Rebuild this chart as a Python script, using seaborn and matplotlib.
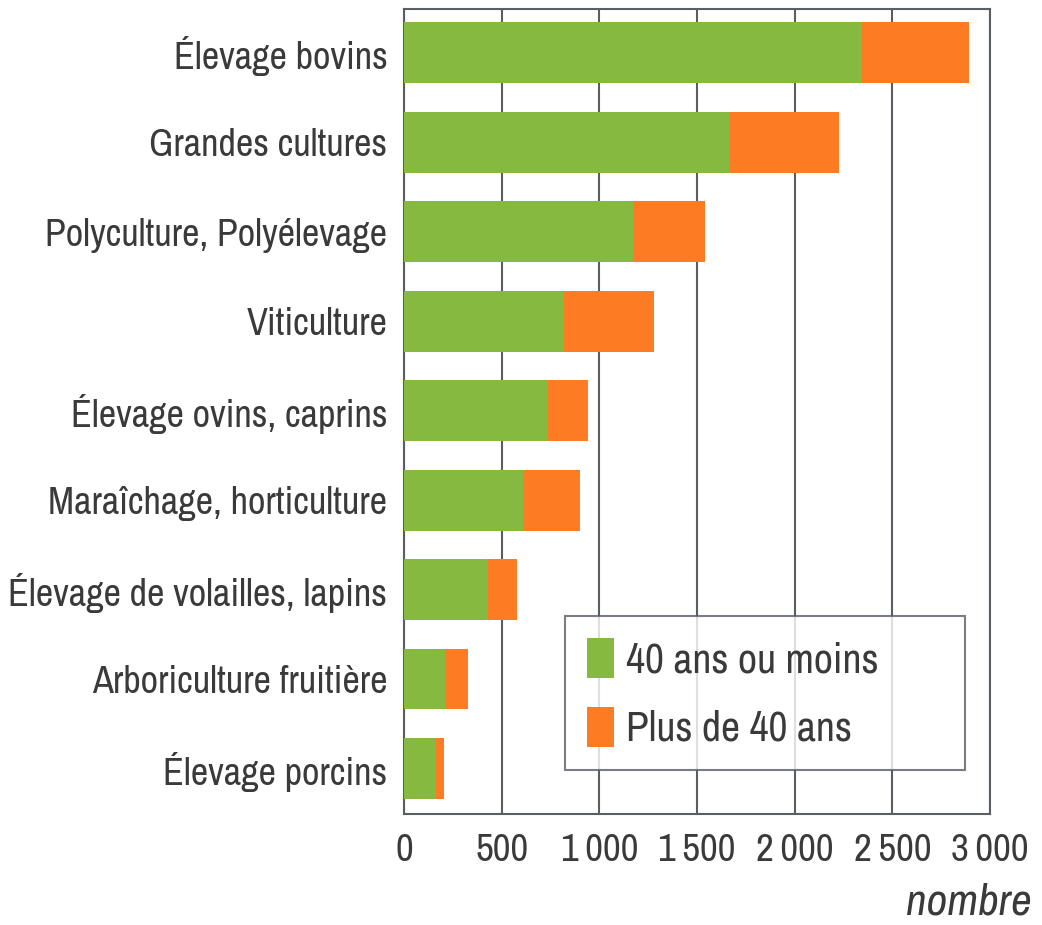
import matplotlib
matplotlib.use("Agg")
import matplotlib.pyplot as plt
from matplotlib import font_manager
from matplotlib.patches import Patch
import seaborn as sns
import pandas as pd

categories = [
    "Élevage bovins",
    "Grandes cultures",
    "Polyculture, Polyélevage",
    "Viticulture",
    "Élevage ovins, caprins",
    "Maraîchage, horticulture",
    "Élevage de volailles, lapins",
    "Arboriculture fruitière",
    "Élevage porcins",
]
young = [2347, 1663, 1172, 818, 737, 610, 428, 212, 162]
older = [546, 565, 369, 461, 206, 293, 152, 117, 44]
series_labels = ["40 ans ou moins", "Plus de 40 ans"]
x_ticks = [0, 500, 1000, 1500, 2000, 2500, 3000]
x_tick_labels = ["0", "500", "1\u2006000", "1\u2006500", "2\u2006000", "2\u2006500", "3\u2006000"]

GREEN = "#86b93f"
ORANGE = "#fd7b22"
GRID = "#595d64"
TEXT = "#3a3a3a"

# a narrow face of regular weight if one is installed, otherwise Open Sans
narrow_regular = sorted(
    {f.name for f in font_manager.fontManager.ttflist
     if any(k in f.name for k in ("Condensed", "Narrow"))
     and isinstance(f.weight, int) and f.weight <= 500 and f.style == "normal"}
)
if narrow_regular:
    main_font, k = narrow_regular[0], 1.25
else:
    main_font, k = "Open Sans", 1.0

sns.set_theme(style="white")
plt.rcParams["font.family"] = [main_font, "DejaVu Sans"]

df = pd.DataFrame({"cat": categories, "young": young, "older": older})
df["total"] = df["young"] + df["older"]

fig = plt.figure(figsize=(10.42, 9.25), dpi=100)
ax = fig.add_axes([0.3877, 0.12, 0.5624, 0.870])

sns.barplot(data=df, y="cat", x="total", color=ORANGE, orient="h",
            width=0.68, saturation=1, ax=ax, zorder=3, linewidth=0)
sns.barplot(data=df, y="cat", x="young", color=GREEN, orient="h",
            width=0.68, saturation=1, ax=ax, zorder=4, linewidth=0)

ax.set_xlim(0, 3000)
ax.set_ylim(8.508, -0.486)
ax.set_xticks(x_ticks)
ax.set_xticklabels(x_tick_labels)
ax.xaxis.grid(True, color=GRID, linewidth=1.5, zorder=1)
ax.set_axisbelow(True)
ax.tick_params(axis="both", length=0, colors=TEXT)
ax.tick_params(axis="y", pad=12, labelsize=22 * k)
ax.tick_params(axis="x", pad=14, labelsize=22.5 * k)
ax.set_ylabel("")
ax.set_xlabel("")
for s in ax.spines.values():
    s.set_color(GRID)
    s.set_linewidth(1.5)

fig.text(0.99, 0.0245, "nombre", ha="right", va="center", fontsize=26 * k,
         style="italic", color=TEXT)

handles = [Patch(facecolor=GREEN, edgecolor="none"),
           Patch(facecolor=ORANGE, edgecolor="none")]
leg_fs = 24 * k
px = leg_fs * 100 / 72
leg = ax.legend(handles, series_labels, loc="lower left",
                bbox_to_anchor=(0.2747, 0.0547, 0.6826, 0.215), mode="expand",
                fontsize=leg_fs, frameon=True, fancybox=False,
                handlelength=27 / px, handleheight=45 / px,
                handletextpad=12 / px, labelspacing=28 / px,
                borderpad=22 / px, borderaxespad=0)
leg.get_frame().set_edgecolor(GRID)
leg.get_frame().set_linewidth(1.5)
for t in leg.get_texts():
    t.set_color(TEXT)

fig.savefig("out.png", dpi=100, facecolor="white")
